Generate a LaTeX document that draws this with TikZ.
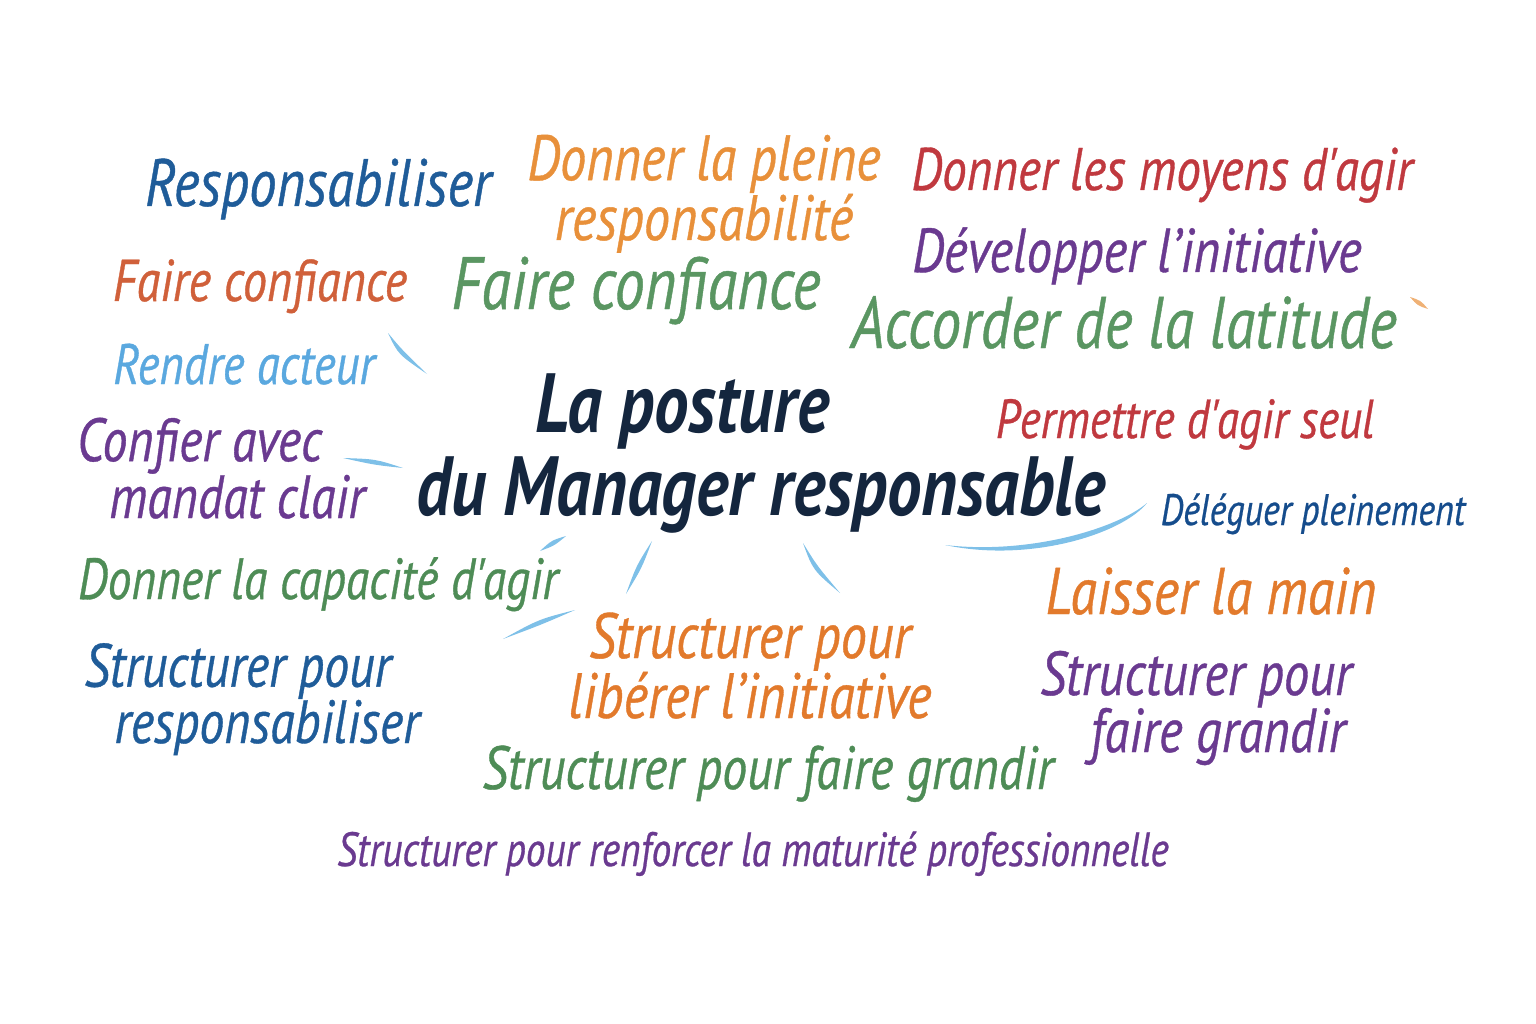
\documentclass[tikz,border=0pt]{standalone}
\usepackage{fontspec}
\usepackage{xcolor}
\usepackage{tikz}
\usetikzlibrary{positioning,calc}
\setmainfont{PT Sans}
\newfontfamily\hand[FakeStretch=0.82, FakeBold=0.6]{PT Sans}
\newfontfamily\handtitle[FakeStretch=0.82]{PT Sans}

\definecolor{wblue}{HTML}{1F5C99}
\definecolor{wdeep}{HTML}{154C8C}
\definecolor{wsky}{HTML}{5AA8DF}
\definecolor{wnavy}{HTML}{14263E}
\definecolor{wred}{HTML}{C0393F}
\definecolor{wrust}{HTML}{D0603A}
\definecolor{worange}{HTML}{E8903A}
\definecolor{wtang}{HTML}{E27A2C}
\definecolor{wgreen}{HTML}{5A9662}
\definecolor{wleaf}{HTML}{4E8C56}
\definecolor{wpurple}{HTML}{6A3A90}
\definecolor{wstroke}{HTML}{7EC0E8}

\newcommand{\sz}[1]{\fontsize{#1}{#1}\selectfont}
% tapered brush stroke: start, control, end
\newcommand{\brushstroke}[4][wstroke]{%
  \fill[#1] (#2) .. controls ($(#3)!3pt!90:(#4)$) .. (#4)
     .. controls ($(#3)!-3pt!90:(#4)$) .. (#2);}

\tikzset{
  word/.style={anchor=base, inner sep=0pt, align=center, font=\hand\itshape},
}

\begin{document}
\begin{tikzpicture}[x=1pt, y=-1pt]
    \useasboundingbox (0,0) rectangle (1536,1024);

    % Title (base = last line)
    \node[word, wnavy, align=left, font=\handtitle\bfseries\itshape\fontsize{84}{83}\selectfont] (title) at (761,515)
        {\hspace*{119pt}La posture\\du Manager responsable};

    % Top row
    \node[word, wblue] (resp) at (318,206) {\sz{67}Responsabiliser};
    \node[word, worange, font=\hand\itshape\fontsize{64}{52}\selectfont] (pleine) at (704,240)
        {Donner la pleine\\responsabilité};
    \node[word, wred] (moyens) at (1162,190) {\sz{60}Donner les moyens d'agir};
    \node[word, wpurple] (initiative) at (1137,272) {\sz{62}Développer l’initiative};

    % Second row
    \node[word, wrust] (confL) at (260,301) {\sz{59}Faire confiance};
    \node[word, wgreen] (confM) at (636,309) {\sz{74}Faire confiance};
    \node[word, wgreen] (latitude) at (1124,348) {\sz{73}Accorder de la latitude};
    \node[word, wsky] (acteur) at (244,384) {\sz{57}Rendre acteur};

    % Middle
    \node[word, wred] (seul) at (1185,438) {\sz{55}Permettre d'agir seul};
    \node[word, wpurple, align=left, font=\hand\itshape\fontsize{61}{55}\selectfont] (mandat) at (221,518)
        {Confier avec\\\hspace*{32pt}mandat clair};
    \node[word, wdeep] (deleguer) at (1313,525) {\sz{44}Déléguer pleinement};
    \node[word, wleaf] (capacite) at (318,599) {\sz{58}Donner la capacité d'agir};
    \node[word, wtang] (main) at (1211,614) {\sz{66}Laisser la main};

    % Lower part
    \node[word, wtang, font=\hand\itshape\fontsize{64}{60}\selectfont] (liberer) at (750,718)
        {Structurer pour\\libérer l’initiative};
    \node[word, wblue, align=left, font=\hand\itshape\fontsize{61}{53}\selectfont] (structR) at (252,743)
        {Structurer pour\\\hspace*{30pt}responsabiliser};
    \node[word, wpurple, align=left, font=\hand\itshape\fontsize{62}{57}\selectfont] (structG) at (1196,752)
        {Structurer pour\\\hspace*{50pt}faire grandir};
    \node[word, wleaf] (grandir) at (768,789) {\sz{61}Structurer pour faire grandir};
    \node[word, wpurple] (maturite) at (753,866) {\sz{48}Structurer pour renforcer la maturité professionnelle};

    % Brush strokes
    \brushstroke{388,333}{400,352}{427,374}
    \brushstroke{343,458}{375,462}{403,468}
    \brushstroke{540,551}{553,543}{566,536}
    \brushstroke{503,639}{540,622}{575,610}
    \brushstroke{652,541}{639,567}{626,594}
    \brushstroke{803,543}{815,568}{840,593}
    \fill[wstroke] (945,545) .. controls (1030,563) and (1122,534) .. (1147,503)
        .. controls (1118,528) and (1030,555) .. (945,545);
    \brushstroke[worange!70]{1410,297}{1419,303}{1428,309}
\end{tikzpicture}
\end{document}
